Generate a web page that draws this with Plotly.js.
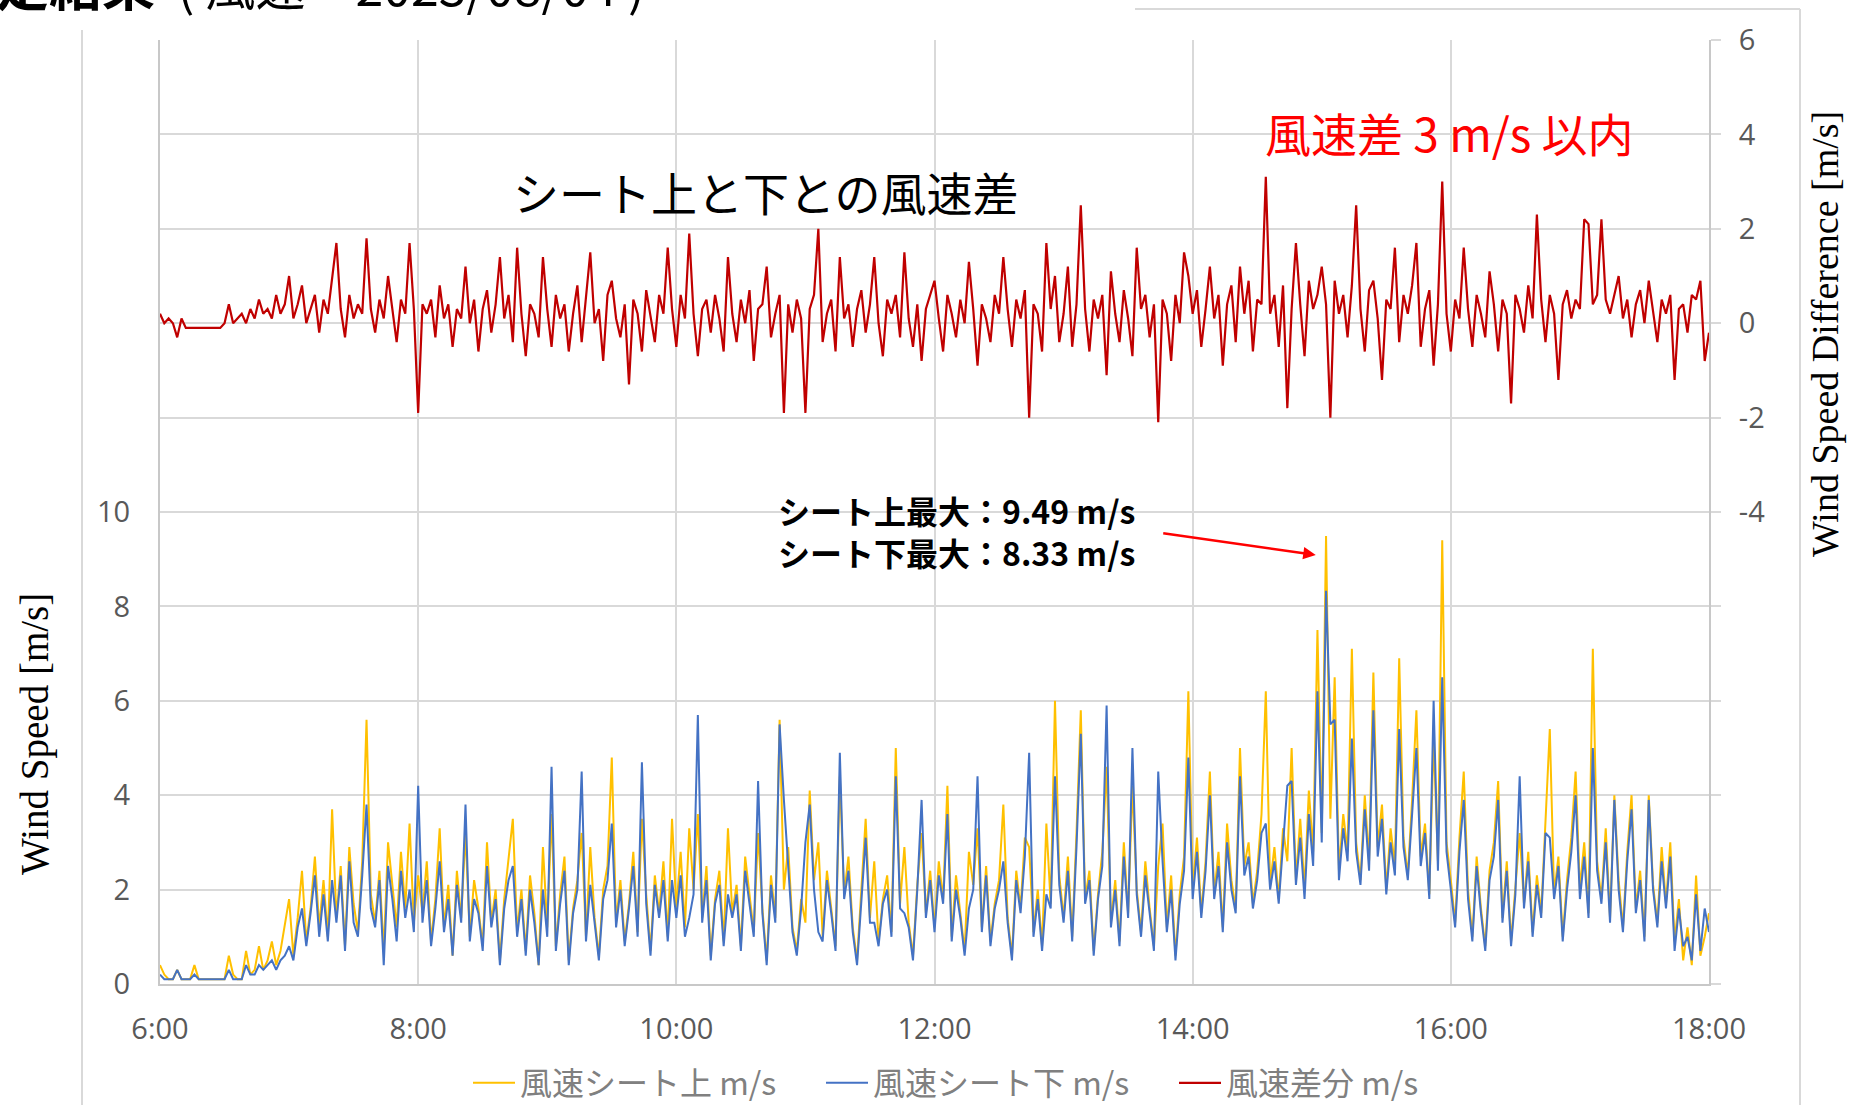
<!DOCTYPE html>
<html><head><meta charset="utf-8">
<script src="https://cdn.plot.ly/plotly-3.0.1.min.js"></script>
<style>html,body{margin:0;padding:0;background:#fff;overflow:hidden}#chart{width:1852px;height:1105px}</style>
</head><body><div id="chart"></div>
<script>
// ---- data (2-minute samples, 6:00 - 18:00) ----
const startHour = 6;
const stepMinutes = 2;

const windTop = [
0.4,0.2,0.1,0.1,0.3,0.1,0.1,0.1,0.4,0.1,0.1,0.1,0.1,0.1,0.1,0.1,0.6,0.2,0.1,0.1,0.7,0.2,0.3,0.8,0.3,0.5,0.9,0.4,0.7,1.3,
1.8,0.6,1.4,2.4,0.9,1.6,2.7,1.2,2.2,1.0,3.7,1.4,2.5,0.8,2.9,1.7,1.1,2.6,5.6,1.9,1.3,2.4,0.7,3.0,2.1,1.2,2.8,1.6,3.4,1.3,
2.3,1.5,2.6,0.9,1.8,3.3,1.2,2.1,0.6,2.4,1.4,3.2,1.0,2.2,1.6,0.8,3.0,1.3,2.0,0.5,1.8,2.6,3.5,1.1,2.0,0.7,2.3,1.5,0.4,2.9,
1.2,3.6,0.8,1.9,2.7,0.5,1.6,2.2,3.2,1.0,2.9,1.4,0.6,2.0,2.5,4.8,1.3,2.2,0.9,1.7,2.8,1.1,3.5,1.9,0.7,2.3,1.5,2.6,1.0,3.5,
1.6,2.8,1.2,3.3,2.0,3.6,1.4,2.5,0.6,1.8,2.4,0.9,3.3,1.5,2.1,0.8,2.7,1.9,1.1,3.2,1.6,0.5,2.3,1.4,5.6,2.0,2.9,1.2,0.7,1.8,
1.3,4.1,2.2,3.0,1.0,2.4,1.6,0.8,4.4,1.9,2.7,1.2,0.5,2.0,3.5,1.4,2.6,0.9,1.8,2.3,1.1,5.0,1.7,2.9,1.3,0.6,2.1,3.2,1.5,2.4,
1.2,2.6,1.8,4.2,1.0,2.3,1.5,0.7,2.8,2.1,3.3,1.2,2.5,0.9,1.7,2.2,3.8,1.4,0.6,2.4,1.6,3.1,2.9,1.1,2.0,0.8,3.4,1.7,6.0,2.3,
1.4,2.7,1.0,3.2,5.8,1.8,2.4,0.7,1.9,2.8,4.6,1.3,2.2,0.9,3.0,1.5,4.2,2.0,1.1,2.6,1.6,0.8,2.5,3.4,1.2,2.3,0.6,1.9,2.7,6.2,
2.0,3.1,1.5,2.6,4.5,1.9,2.8,1.2,3.4,2.2,1.6,5.0,2.5,3.0,1.7,2.4,3.6,6.2,2.1,2.9,1.8,3.3,2.6,5.0,2.2,3.5,2.0,4.1,2.8,7.5,
3.2,9.49,3.5,6.5,2.4,3.6,2.8,7.1,3.0,2.2,4.0,2.6,6.6,2.9,3.8,2.0,3.3,2.5,6.9,3.1,2.3,3.9,5.8,2.7,3.4,1.9,5.2,2.6,9.4,3.0,
2.2,1.3,3.1,4.5,2.0,1.0,2.7,1.6,0.8,2.4,3.0,4.3,1.4,2.6,0.9,2.1,3.2,1.7,2.8,1.1,2.3,1.5,3.6,5.4,1.9,2.7,1.0,2.2,3.1,4.5,
2.0,3.0,1.5,7.1,2.6,1.8,3.3,1.4,4.0,2.2,1.2,2.8,4.0,1.6,2.4,1.0,4.0,2.1,1.3,2.9,1.7,3.0,0.9,1.8,0.5,1.2,0.4,2.3,0.6,1.0,
1.5];

const windBottom = [
0.2,0.1,0.1,0.1,0.3,0.1,0.1,0.1,0.2,0.1,0.1,0.1,0.1,0.1,0.1,0.1,0.3,0.1,0.1,0.1,0.4,0.2,0.2,0.4,0.3,0.4,0.5,0.3,0.5,0.6,
0.8,0.5,1.2,1.6,0.8,1.5,2.3,1.0,1.9,0.9,2.2,1.3,2.3,0.7,2.6,1.3,1.0,2.3,3.8,1.6,1.2,2.2,0.4,2.5,1.8,0.9,2.4,1.4,2.0,1.1,
4.2,1.3,2.2,0.8,1.6,2.6,1.1,1.8,0.6,2.1,1.3,3.8,0.9,1.8,1.5,0.7,2.5,1.2,1.8,0.4,1.6,2.2,2.5,1.0,1.8,0.6,2.0,1.3,0.4,2.0,
1.0,4.6,0.7,1.7,2.4,0.4,1.5,2.0,4.5,0.9,2.1,1.3,0.5,1.8,2.2,3.4,1.2,2.0,0.8,1.6,2.5,1.0,4.7,1.7,0.6,2.1,1.4,2.2,0.9,2.2,
1.4,2.3,1.0,1.4,1.9,5.7,1.3,2.2,0.5,1.7,2.1,0.8,1.9,1.4,1.9,0.7,2.4,1.7,1.0,4.3,1.5,0.4,2.1,1.3,5.5,3.9,2.5,1.1,0.6,1.6,
3.0,3.8,2.0,1.1,0.9,2.2,1.5,0.7,4.9,1.8,2.4,1.1,0.4,1.8,3.1,1.3,1.3,0.8,1.7,2.0,1.0,4.4,1.6,1.5,1.2,0.5,2.0,3.9,1.4,2.2,
1.1,2.3,1.7,3.6,0.9,2.0,1.4,0.6,1.6,2.0,4.4,1.1,2.3,0.8,1.6,2.0,2.6,1.3,0.5,2.2,1.5,2.7,4.9,1.0,1.8,0.7,1.9,1.6,4.4,2.1,
1.3,2.4,0.9,2.9,5.3,1.7,2.2,0.6,1.8,2.5,5.9,1.2,2.0,0.8,2.7,1.4,5.0,1.9,1.0,2.3,1.5,0.7,4.5,2.6,1.1,2.0,0.5,1.7,2.4,4.8,
1.8,2.8,1.4,2.4,4.0,1.8,2.5,1.1,3.0,2.0,1.5,4.4,2.3,2.7,1.6,2.2,3.2,3.4,2.0,2.6,1.7,3.0,4.2,4.3,2.1,3.1,1.8,3.6,2.5,6.2,
3.0,8.33,5.5,5.6,2.2,3.3,2.6,5.2,2.8,2.1,3.7,2.4,5.8,2.7,3.5,1.9,3.0,2.3,5.4,2.9,2.2,3.6,5.0,2.5,3.2,1.8,6.0,2.4,6.5,2.8,
2.0,1.2,2.8,3.9,1.8,0.9,2.5,1.5,0.7,2.2,2.7,3.9,1.3,2.4,0.8,1.9,4.4,1.6,2.6,1.0,2.1,1.4,3.2,3.1,1.8,2.5,0.9,2.0,2.8,4.0,
1.8,2.7,1.4,5.0,2.4,1.7,3.0,1.3,3.9,2.0,1.1,2.6,3.7,1.5,2.2,0.9,3.9,2.0,1.2,2.6,1.6,2.7,0.7,1.6,0.8,1.0,0.5,1.9,0.7,1.6,
1.1];

const windDiff = [
0.2,0.0,0.1,0.0,-0.3,0.1,-0.1,-0.1,-0.1,-0.1,-0.1,-0.1,-0.1,-0.1,-0.1,0.0,0.4,0.0,0.1,0.2,0.0,0.3,0.1,0.5,0.2,0.3,0.1,0.6,0.2,0.4,
1.0,0.1,0.4,0.8,0.0,0.3,0.6,-0.2,0.5,0.2,0.9,1.7,0.3,-0.3,0.6,0.1,0.4,0.2,1.8,0.3,-0.2,0.5,0.1,1.0,0.3,-0.4,0.5,0.2,1.7,0.3,
-1.9,0.4,0.2,0.5,-0.3,0.8,0.1,0.4,-0.5,0.3,0.1,1.2,0.0,0.5,-0.6,0.3,0.7,-0.2,0.4,1.4,0.1,0.6,-0.4,1.6,0.2,-0.7,0.4,0.2,-0.3,1.4,
0.3,-0.5,0.6,0.1,0.4,-0.6,0.2,0.8,-0.4,0.5,1.5,0.0,0.3,-0.8,0.6,0.9,0.1,-0.3,0.4,-1.3,0.5,0.2,-0.6,0.7,0.1,-0.4,0.6,0.2,1.6,0.3,
-0.5,0.6,0.1,1.9,0.2,-0.7,0.3,0.5,-0.2,0.6,0.1,-0.6,1.4,0.2,-0.4,0.5,0.0,0.7,-0.8,0.3,0.4,1.2,-0.3,0.2,0.6,-1.9,0.4,-0.2,0.5,0.1,
-1.9,0.3,0.6,2.0,-0.4,0.2,0.5,-0.6,1.4,0.1,0.4,-0.5,0.3,0.7,-0.2,0.4,1.4,0.0,-0.7,0.5,0.2,0.6,-0.3,1.5,0.1,-0.5,0.4,-0.8,0.3,0.6,
0.9,0.1,-0.6,0.6,0.2,-0.3,0.5,0.0,1.3,0.3,-0.9,0.4,0.1,-0.4,0.6,0.2,1.4,0.3,-0.5,0.5,0.1,0.7,-2.0,0.4,0.2,-0.6,1.7,0.3,1.0,-0.4,
0.2,1.2,-0.5,0.4,2.5,0.3,-0.6,0.5,0.1,0.6,-1.1,1.1,0.2,-0.4,0.7,0.1,-0.7,1.6,0.3,0.6,-0.3,0.4,-2.1,0.5,0.2,-0.8,0.6,0.0,1.5,1.0,
0.2,0.7,-0.5,0.3,1.2,0.1,0.6,-0.9,0.4,0.8,-0.4,1.2,0.2,0.9,-0.6,0.5,0.4,3.1,0.2,0.6,-0.5,0.8,-1.8,0.3,1.7,0.4,-0.7,0.9,0.3,0.6,
1.2,0.4,-2.0,0.9,0.2,0.6,-0.3,0.8,2.5,0.3,-0.6,0.7,0.9,0.1,-1.2,0.5,0.3,1.6,-0.4,0.6,0.2,0.8,1.7,-0.5,0.3,0.7,-0.9,0.4,3.0,0.2,
-0.6,0.5,0.1,1.6,0.3,-0.5,0.6,0.2,-0.3,1.1,0.4,-0.6,0.5,0.2,-1.7,0.6,0.3,-0.2,0.8,0.1,2.3,0.5,-0.4,0.6,0.2,-1.2,0.4,0.7,0.1,0.5,
0.3,2.2,2.1,0.4,0.6,2.2,0.5,0.2,0.6,1.0,0.1,0.5,-0.3,0.4,0.7,0.0,0.9,0.3,-0.4,0.5,0.2,0.6,-1.2,0.3,0.4,-0.2,0.6,0.5,0.9,-0.8,
-0.2];

const seriesNames = ['風速シート上 m/s', '風速シート下 m/s', '風速差分 m/s'];
const xTickVals = [6, 8, 10, 12, 14, 16, 18];
const xTickText = ['6:00', '8:00', '10:00', '12:00', '14:00', '16:00', '18:00'];
const yTickVals = [0, 2, 4, 6, 8, 10, 12, 14, 16, 18, 20];
const yTickText = ['0', '2', '4', '6', '8', '10', '', '', '', '', ''];
const y2TickVals = [-14, -12, -10, -8, -6, -4, -2, 0, 2, 4, 6];
const y2TickText = ['', '', '', '', '', '-4', '-2', '0', '2', '4', '6'];
const maxTopText = 'シート上最大：9.49 m/s';
const maxBottomText = 'シート下最大：8.33 m/s';

// ---- layout helpers ----
const W = 1852, H = 1105, ML = 160, MR = 143, MT = 40, MB = 121;
const PW = W - ML - MR, PH = H - MT - MB;
const px = p => (p - ML) / PW;
const py = p => (H - MB - p) / PH;

const times = windTop.map((_, i) => startHour + i * stepMinutes / 60);
let iMax = 0;
windTop.forEach((v, i) => { if (v > windTop[iMax]) iMax = i; });

const COL_Y = '#FFC000', COL_B = '#4472C4', COL_R = '#C00000';
const GRID = '#d9d9d9', AXL = '#c8c8c8';
const tickFont = {family: 'Open Sans, sans-serif', size: 29, color: '#595959'};
const jp = 'Noto Sans CJK JP, sans-serif';
const serif = 'Liberation Serif, DejaVu Serif, serif';

const traces = [
  {x: times, y: windTop, type: 'scatter', mode: 'lines', name: seriesNames[0],
   line: {color: COL_Y, width: 2}, yaxis: 'y'},
  {x: times, y: windBottom, type: 'scatter', mode: 'lines', name: seriesNames[1],
   line: {color: COL_B, width: 2}, yaxis: 'y'},
  {x: times, y: windDiff, type: 'scatter', mode: 'lines', name: seriesNames[2],
   line: {color: COL_R, width: 2.2}, yaxis: 'y2'}
];

const line = (x0, y0, x1, y1) => ({type: 'line', xref: 'paper', yref: 'paper',
  x0: px(x0), y0: py(y0), x1: px(x1), y1: py(y1), line: {color: '#d9d9d9', width: 2}, layer: 'below'});

const layout = {
  width: W, height: H,
  margin: {l: ML, r: MR, t: MT, b: MB, pad: 0, autoexpand: false},
  paper_bgcolor: '#ffffff', plot_bgcolor: '#ffffff',
  showlegend: true,
  xaxis: {range: [6, 18], tickvals: xTickVals, ticktext: xTickText, showgrid: true,
    gridcolor: GRID, gridwidth: 2, showline: true, linecolor: AXL, linewidth: 2,
    ticks: '', tickfont: tickFont, ticklabelstandoff: 18, zeroline: false, fixedrange: true},
  yaxis: {range: [0, 20], tickvals: yTickVals, ticktext: yTickText, showgrid: true,
    gridcolor: GRID, gridwidth: 2, showline: true, linecolor: AXL, linewidth: 2,
    ticks: '', tickfont: tickFont, ticklabelstandoff: 22, zeroline: false, fixedrange: true},
  yaxis2: {range: [-14, 6], tickvals: y2TickVals, ticktext: y2TickText, overlaying: 'y',
    side: 'right', showgrid: false, showline: true, linecolor: AXL, linewidth: 2,
    ticks: 'outside', ticklen: 10, tickwidth: 2, tickcolor: GRID, tickfont: tickFont,
    ticklabelstandoff: 12, zeroline: false, fixedrange: true},
  legend: {orientation: 'h', x: px(468), xanchor: 'left', y: py(1083), yanchor: 'middle',
    entrywidth: 296, entrywidthmode: 'pixels', itemwidth: 42,
    font: {family: jp, size: 32, color: '#808080'}, bgcolor: 'rgba(0,0,0,0)', traceorder: 'normal'},
  shapes: [line(82, 30, 82, 1105), line(1135, 9, 1800, 9), line(1800, 9, 1800, 1105)],
  annotations: [
    {xref: 'paper', yref: 'paper', x: px(-59), y: py(-17), xanchor: 'left', yanchor: 'middle',
     text: '<b><span style="font-size:53px">測定結果</span></b>  ( 風速　2023/08/04 )', showarrow: false,
     font: {family: jp, size: 50, color: '#000'}},
    {xref: 'paper', yref: 'paper', x: px(766), y: py(191), xanchor: 'center', yanchor: 'middle',
     text: 'シート上と下との風速差', showarrow: false, font: {family: jp, size: 46, color: '#000'}},
    {xref: 'paper', yref: 'paper', x: px(1449), y: py(132), xanchor: 'center', yanchor: 'middle',
     text: '風速差 3 m/s 以内', showarrow: false, font: {family: jp, size: 46, color: '#ff0000'}},
    {xref: 'paper', yref: 'paper', x: px(776), y: py(531), xanchor: 'left', yanchor: 'middle',
     align: 'left', text: '<b>' + maxTopText + '<br>' + maxBottomText + '</b>', showarrow: false,
     font: {family: jp, size: 32, color: '#000'}},
    {xref: 'x', yref: 'y', x: times[iMax] - 0.08, y: windTop[iMax] - 0.4, text: '',
     showarrow: true, arrowhead: 2, arrowsize: 1, arrowwidth: 2.5, arrowcolor: '#ff0000',
     ax: -154, ay: -22},
    {xref: 'paper', yref: 'paper', x: px(35), y: py(734), xanchor: 'center', yanchor: 'middle',
     text: 'Wind Speed [m/s]', textangle: -90, showarrow: false,
     font: {family: serif, size: 39, color: '#000'}},
    {xref: 'paper', yref: 'paper', x: px(1825), y: py(334), xanchor: 'center', yanchor: 'middle',
     text: 'Wind Speed Difference [m/s]', textangle: -90, showarrow: false,
     font: {family: serif, size: 38, color: '#000'}}
  ]
};

Plotly.newPlot('chart', traces, layout, {displayModeBar: false, staticPlot: true});
</script>
</body></html>
